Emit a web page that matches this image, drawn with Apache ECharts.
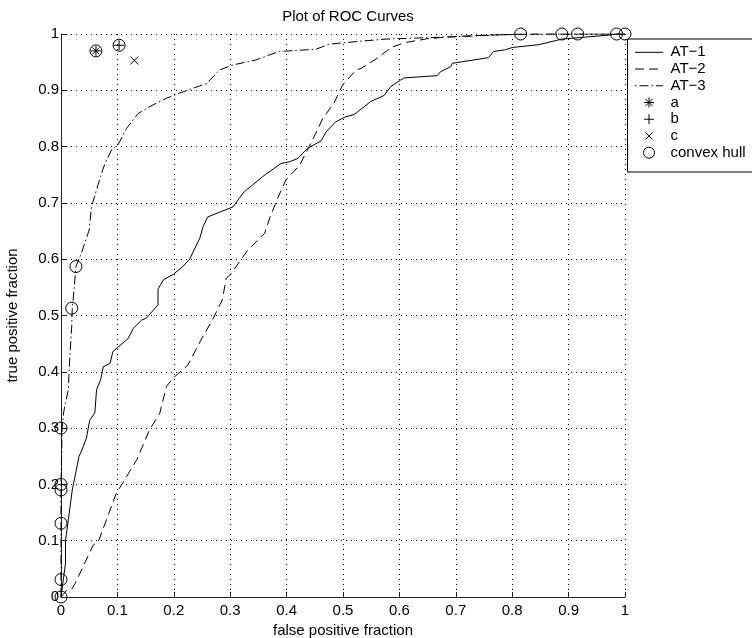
<!DOCTYPE html>
<html>
<head>
<meta charset="utf-8">
<script src="https://cdn.jsdelivr.net/npm/echarts@6/dist/echarts.min.js"></script>
<style>
html,body{margin:0;padding:0;background:#fff;}
#chart{width:752px;height:638px;}
</style>
</head>
<body>
<div id="chart"></div>
<script>
const tickLabels = ['0','0.1','0.2','0.3','0.4','0.5','0.6','0.7','0.8','0.9','1'];
const seriesNames = ['AT\u22121','AT\u22122','AT\u22123','a','b','c','convex hull'];

const at1 = [[0,0],[0.004,0.03],[0.008,0.06],[0.008,0.1],[0.011,0.1],[0.012,0.13],[0.02,0.19],[0.032,0.25],[0.037,0.261],[0.045,0.282],[0.051,0.314],[0.06,0.327],[0.063,0.368],[0.07,0.385],[0.075,0.409],[0.087,0.415],[0.092,0.436],[0.119,0.459],[0.128,0.477],[0.143,0.492],[0.151,0.495],[0.172,0.519],[0.172,0.547],[0.182,0.564],[0.199,0.573],[0.216,0.587],[0.228,0.600],[0.246,0.637],[0.252,0.658],[0.260,0.675],[0.305,0.693],[0.316,0.708],[0.325,0.720],[0.340,0.732],[0.358,0.747],[0.390,0.770],[0.405,0.773],[0.420,0.779],[0.437,0.797],[0.461,0.810],[0.470,0.826],[0.487,0.844],[0.505,0.853],[0.520,0.857],[0.549,0.880],[0.573,0.891],[0.585,0.907],[0.602,0.918],[0.608,0.922],[0.667,0.926],[0.673,0.933],[0.691,0.942],[0.694,0.948],[0.758,0.958],[0.767,0.969],[0.788,0.972],[0.800,0.976],[0.847,0.981],[0.888,0.991],[0.971,0.998],[0.985,1.0],[1,1]];

const at2 = [[0,0],[0.01,0.012],[0.019,0.014],[0.025,0.024],[0.057,0.092],[0.066,0.098],[0.098,0.184],[0.134,0.243],[0.157,0.297],[0.175,0.326],[0.187,0.374],[0.199,0.389],[0.225,0.412],[0.25,0.46],[0.27,0.495],[0.286,0.528],[0.293,0.566],[0.302,0.575],[0.331,0.616],[0.361,0.646],[0.370,0.673],[0.384,0.708],[0.399,0.741],[0.423,0.767],[0.440,0.800],[0.452,0.824],[0.464,0.850],[0.484,0.877],[0.499,0.909],[0.523,0.936],[0.532,0.939],[0.561,0.957],[0.585,0.976],[0.611,0.985],[0.652,0.992],[0.693,0.995],[0.753,0.998],[0.85,1],[1,1]];

const at3 = [[0,0],[0,0.2],[0.002,0.3],[0.005,0.33],[0.013,0.368],[0.015,0.415],[0.019,0.48],[0.02,0.513],[0.022,0.533],[0.0265,0.587],[0.037,0.613],[0.042,0.628],[0.05,0.652],[0.054,0.693],[0.063,0.723],[0.070,0.747],[0.078,0.770],[0.090,0.795],[0.101,0.803],[0.116,0.832],[0.137,0.859],[0.163,0.874],[0.187,0.886],[0.210,0.895],[0.258,0.912],[0.281,0.936],[0.305,0.945],[0.346,0.954],[0.370,0.963],[0.387,0.969],[0.452,0.973],[0.476,0.982],[0.529,0.987],[0.576,0.991],[0.694,0.995],[0.815,1.0],[1,1]];

const pointA = [[0.062,0.970]];
const pointB = [[0.103,0.980]];
const pointC = [[0.130,0.953]];
const hull = [[0,0],[0,0.031],[0,0.131],[0,0.19],[0,0.2],[0,0.3],[0.019,0.513],[0.0265,0.587],[0.062,0.970],[0.103,0.980],[0.815,1],[0.888,1],[0.916,1],[0.985,1],[1,1]];

const FONT = '"Liberation Sans", Arial, Helvetica, sans-serif';
const chart = echarts.init(document.getElementById('chart'), null, {renderer:'canvas'});

const dashAT2 = [9, 5];
const dashAT3 = [9, 3, 1.5, 3];

function lineSeries(name, data, type) {
  return {
    name: name, type: 'line', data: data, symbol: 'none', animation: false,
    lineStyle: {color: '#000', width: 1, type: type},
    itemStyle: {color: '#000'}, z: 3
  };
}
function markSeries(name, data, symbol, size) {
  return {
    name: name, type: 'scatter', data: data, symbol: symbol, symbolSize: size,
    clip: false, animation: false, z: 4,
    itemStyle: {color: 'rgba(0,0,0,0)', borderColor: '#000', borderWidth: 1, opacity: 1},
    emphasis: {disabled: true}
  };
}

const asterisk = 'path://M5,0L5,10M0,5L10,5M1.6,1.6L8.4,8.4M1.6,8.4L8.4,1.6';
const plus = 'path://M5,0L5,10M0,5L10,5';
const cross = 'path://M0,0L10,10M0,10L10,0';

// legend drawn as graphics (box, samples, text)
const LX = 627.5, LY = 39, LW = 140, LH = 133;
const rowY = i => 52.3 + i * 16.73;
const sx0 = 635, sx1 = 663, smid = 649, tx = 670.5;
const stroke = {stroke: '#000', lineWidth: 1, fill: null};
const legendEls = [
  {type: 'rect', shape: {x: LX, y: LY, width: LW, height: LH}, style: {fill: '#fff', stroke: '#000', lineWidth: 1}, z: 0},
  {type: 'line', shape: {x1: sx0, y1: rowY(0), x2: sx1, y2: rowY(0)}, style: Object.assign({}, stroke), z: 1},
  {type: 'line', shape: {x1: sx0, y1: rowY(1), x2: sx1, y2: rowY(1)}, style: Object.assign({lineDash: dashAT2}, stroke), z: 1},
  {type: 'line', shape: {x1: sx0, y1: rowY(2), x2: sx1, y2: rowY(2)}, style: Object.assign({lineDash: [1.5,3,9,3]}, stroke), z: 1},
  {type: 'polyline', shape: {points: [[smid, rowY(3)-5],[smid, rowY(3)+5]]}, style: Object.assign({}, stroke), z: 1},
  {type: 'polyline', shape: {points: [[smid-5, rowY(3)],[smid+5, rowY(3)]]}, style: Object.assign({}, stroke), z: 1},
  {type: 'polyline', shape: {points: [[smid-3.5, rowY(3)-3.5],[smid+3.5, rowY(3)+3.5]]}, style: Object.assign({}, stroke), z: 1},
  {type: 'polyline', shape: {points: [[smid-3.5, rowY(3)+3.5],[smid+3.5, rowY(3)-3.5]]}, style: Object.assign({}, stroke), z: 1},
  {type: 'polyline', shape: {points: [[smid, rowY(4)-5],[smid, rowY(4)+5]]}, style: Object.assign({}, stroke), z: 1},
  {type: 'polyline', shape: {points: [[smid-5, rowY(4)],[smid+5, rowY(4)]]}, style: Object.assign({}, stroke), z: 1},
  {type: 'polyline', shape: {points: [[smid-3.5, rowY(5)-3.5],[smid+3.5, rowY(5)+3.5]]}, style: Object.assign({}, stroke), z: 1},
  {type: 'polyline', shape: {points: [[smid-3.5, rowY(5)+3.5],[smid+3.5, rowY(5)-3.5]]}, style: Object.assign({}, stroke), z: 1},
  {type: 'circle', shape: {cx: smid, cy: rowY(6), r: 5.5}, style: Object.assign({}, stroke), z: 1}
];
seriesNames.forEach((n, i) => {
  legendEls.push({type: 'text', x: tx, y: rowY(i), z: 1,
    style: {text: n, fill: '#000', font: '15px ' + FONT, textVerticalAlign: 'middle', verticalAlign: 'middle', align: 'left'}});
});

chart.setOption({
  backgroundColor: '#fff',
  animation: false,
  textStyle: {fontFamily: FONT},
  title: {
    text: 'Plot of ROC Curves', left: 343, textAlign: 'center', top: 4,
    textStyle: {fontFamily: FONT, fontSize: 15, fontWeight: 'normal', color: '#000'}
  },
  grid: {left: 61, right: 127, top: 34, bottom: 41, containLabel: false, outerBoundsMode: 'none'},
  xAxis: {
    type: 'value', min: 0, max: 1, interval: 0.1,
    name: 'false positive fraction', nameLocation: 'middle', nameGap: 25,
    nameTextStyle: {fontFamily: FONT, fontSize: 15, color: '#000'},
    axisLine: {show: true, onZero: false, lineStyle: {color: '#222', width: 1}},
    axisTick: {show: true, inside: true, length: 5, lineStyle: {color: '#222'}},
    axisLabel: {margin: 6, fontFamily: FONT, fontSize: 15, color: '#000',
      formatter: v => tickLabels[Math.round(v * 10)]},
    splitLine: {show: true, lineStyle: {color: '#000', width: 1, type: [1, 4]}}
  },
  yAxis: {
    type: 'value', min: 0, max: 1, interval: 0.1,
    name: 'true positive fraction', nameLocation: 'middle', nameGap: 41,
    nameTextStyle: {fontFamily: FONT, fontSize: 15, color: '#000'},
    axisLine: {show: true, onZero: false, lineStyle: {color: '#222', width: 1}},
    axisTick: {show: true, inside: true, length: 5, lineStyle: {color: '#222'}},
    axisLabel: {margin: 2, fontFamily: FONT, fontSize: 15, color: '#000',
      formatter: v => tickLabels[Math.round(v * 10)]},
    splitLine: {show: true, lineStyle: {color: '#000', width: 1, type: [1, 4]}}
  },
  graphic: [{type: 'group', z: 100, children: legendEls}],
  series: [
    lineSeries(seriesNames[0], at1, 'solid'),
    lineSeries(seriesNames[1], at2, dashAT2),
    lineSeries(seriesNames[2], at3, dashAT3),
    markSeries(seriesNames[3], pointA, asterisk, 10),
    markSeries(seriesNames[4], pointB, plus, 10),
    markSeries(seriesNames[5], pointC, cross, 8),
    markSeries(seriesNames[6], hull, 'circle', 12)
  ]
});
</script>
</body>
</html>
